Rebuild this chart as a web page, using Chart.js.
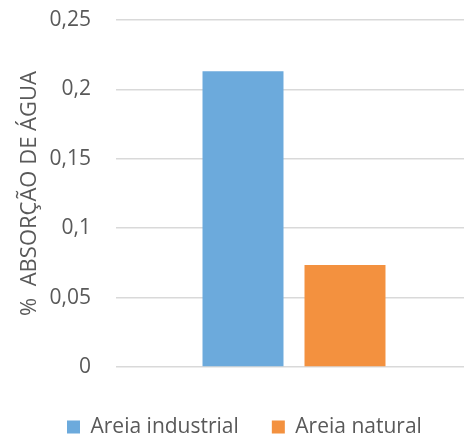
<!DOCTYPE html>
<html>
<head>
<meta charset="utf-8">
<script src="https://cdn.jsdelivr.net/npm/chart.js@4/dist/chart.umd.min.js"></script>
<style>
  html, body { margin: 0; padding: 0; background: #fff; overflow: hidden; }
  #wrap { width: 472px; height: 436px; }
</style>
</head>
<body>
<div id="wrap"><canvas id="c" width="472" height="436"></canvas></div>
<script>
// Water absorption of mortar by sand type
const categories = [''];
const seriesNames = ['Areia industrial', 'Areia natural'];
const industrialValues = [0.213];
const naturalValues = [0.0735];
const yTicks = [0, 0.05, 0.1, 0.15, 0.2, 0.25];
const yTitle = '%  ABSORÇÃO DE ÁGUA';

const FONT = '"Open Sans", sans-serif';
const TEXT = '#595959';
const LEGEND_FONT = 21;
const LEGEND_PAD = 33;

// Place the legend row low under the plot, starting at a fixed x
const legendPlacer = {
  id: 'legendPlacer',
  afterLayout(chart) {
    const lg = chart.legend;
    const rowCenter = 427;
    const dy = rowCenter - (lg.top + LEGEND_PAD + LEGEND_FONT / 2);
    const start = (lg.left + LEGEND_PAD + lg.right - lg.lineWidths[0]) / 2;
    const dx = 67 - start;
    lg.top += dy; lg.bottom += dy;
    lg.left += dx; lg.right += dx;
  }
};

new Chart(document.getElementById('c'), {
  type: 'bar',
  data: {
    labels: categories,
    datasets: [
      { label: seriesNames[0], data: industrialValues, backgroundColor: '#6CAADC' },
      { label: seriesNames[1], data: naturalValues, backgroundColor: '#F3913F' }
    ]
  },
  plugins: [legendPlacer],
  options: {
    responsive: false,
    animation: false,
    layout: { padding: { top: 20, left: 0, right: 0, bottom: 5 } },
    datasets: { bar: { categoryPercentage: 0.573, barPercentage: 0.794 } },
    scales: {
      x: { display: false },
      y: {
        min: 0,
        max: 0.25,
        afterBuildTicks(scale) { scale.ticks = yTicks.map(v => ({ value: v })); },
        afterFit(scale) {
          scale.width = 116;
          scale.paddingTop = 0;
          scale.paddingBottom = 0;
        },
        border: { display: false },
        grid: { color: '#d9d9d9', lineWidth: 1.5, drawTicks: false },
        ticks: {
          padding: 25,
          color: TEXT,
          font: { family: FONT, size: 21 },
          callback: v => String(Math.round(v * 100) / 100).replace('.', ',')
        },
        title: {
          display: true,
          text: yTitle,
          color: TEXT,
          font: { family: FONT, size: 22 },
          padding: { top: 16.5, bottom: 0 }
        }
      }
    },
    plugins: {
      tooltip: { enabled: false },
      legend: {
        position: 'bottom',
        labels: {
          color: TEXT,
          font: { family: FONT, size: LEGEND_FONT },
          boxWidth: 13,
          boxHeight: 13,
          padding: LEGEND_PAD
        }
      }
    }
  }
});
</script>
</body>
</html>
